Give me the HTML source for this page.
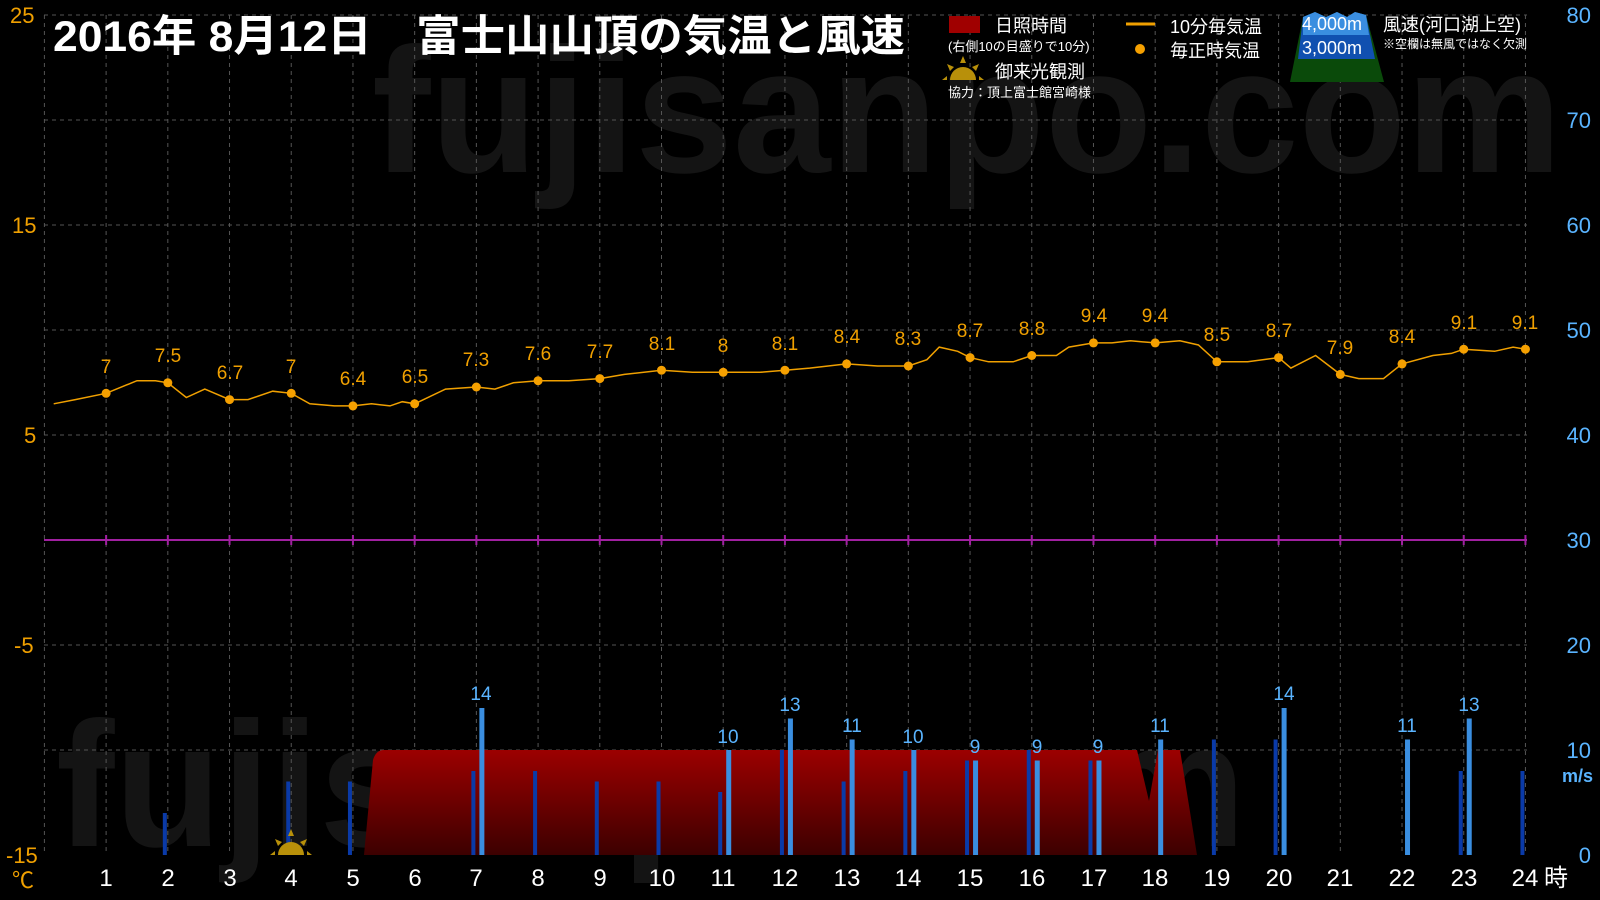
<!DOCTYPE html>
<html><head><meta charset="utf-8"><style>
html,body{margin:0;padding:0;background:#000;}
svg{display:block;font-family:"Liberation Sans","Noto Sans CJK JP",sans-serif;}
</style></head><body>
<svg id="s" width="1600" height="900" viewBox="0 0 1600 900" xmlns="http://www.w3.org/2000/svg">
<defs>
<linearGradient id="rg" x1="0" y1="0" x2="0" y2="1"><stop offset="0" stop-color="#9c0000"/><stop offset="1" stop-color="#3c0000"/></linearGradient>
</defs>
<rect width="1600" height="900" fill="#000"/>
<!-- watermarks -->
<text x="372" y="172" font-size="178" font-weight="bold" fill="#141414" textLength="1190" lengthAdjust="spacingAndGlyphs">fujisanpo.com</text>
<text x="56" y="846" font-size="178" font-weight="bold" fill="#141414" textLength="1190" lengthAdjust="spacingAndGlyphs">fujisanpo.com</text>
<!-- grid -->
<g stroke="#555" stroke-width="1" stroke-dasharray="4,4" fill="none" id="grid">
<line x1="44" y1="15" x2="1527" y2="15"/>
<line x1="44" y1="120" x2="1527" y2="120"/>
<line x1="44" y1="225" x2="1527" y2="225"/>
<line x1="44" y1="330" x2="1527" y2="330"/>
<line x1="44" y1="435" x2="1527" y2="435"/>
<line x1="44" y1="645" x2="1527" y2="645"/>
<line x1="44" y1="750" x2="1527" y2="750"/>
</g>
<!-- sunshine -->
<path d="M364,855 L373,760 Q376,750 384,750 L1137,750 L1149,801 L1158,750 L1180,750 L1197,855 Z" fill="url(#rg)"/>
<!-- purple zero line -->
<line x1="44" y1="540" x2="1527" y2="540" stroke="#a020a0" stroke-width="2"/>
<g id="bars"></g>
<g id="ticks" stroke="#a020a0" stroke-width="2"></g>
<polyline id="tl" fill="none" stroke="#f0a000" stroke-width="1.5" points=""/>
<g id="dots" fill="#f5a000"></g>
<!-- left axis -->
<g fill="#f0a000" font-size="22" text-anchor="start">
<text x="10" y="23">25</text>
<text x="12" y="233">15</text>
<text x="24" y="443">5</text>
<text x="14" y="653">-5</text>
<text x="6" y="863">-15</text>
<text x="12" y="888">℃</text>
</g>
<!-- right axis -->
<g fill="#5ab4ff" font-size="22" text-anchor="end">
<text x="1591" y="23">80</text>
<text x="1591" y="128">70</text>
<text x="1591" y="233">60</text>
<text x="1591" y="338">50</text>
<text x="1591" y="443">40</text>
<text x="1591" y="548">30</text>
<text x="1591" y="653">20</text>
<text x="1591" y="758">10</text>
<text x="1593" y="782" font-size="18" font-weight="bold">m/s</text>
<text x="1591" y="863">0</text>
</g>
<!-- hour labels -->
<g fill="#fff" font-size="24" text-anchor="middle">
<text x="106" y="886">1</text><text x="168" y="886">2</text><text x="230" y="886">3</text><text x="291" y="886">4</text>
<text x="353" y="886">5</text><text x="415" y="886">6</text><text x="476" y="886">7</text><text x="538" y="886">8</text>
<text x="600" y="886">9</text><text x="662" y="886">10</text><text x="723" y="886">11</text><text x="785" y="886">12</text>
<text x="847" y="886">13</text><text x="908" y="886">14</text><text x="970" y="886">15</text><text x="1032" y="886">16</text>
<text x="1094" y="886">17</text><text x="1155" y="886">18</text><text x="1217" y="886">19</text><text x="1279" y="886">20</text>
<text x="1340" y="886">21</text><text x="1402" y="886">22</text><text x="1464" y="886">23</text><text x="1525" y="886">24</text>
<text x="1556" y="886">時</text>
</g>
<!-- temp labels -->
<g fill="#f0a000" font-size="19" text-anchor="middle">
<text x="106" y="373">7</text><text x="168" y="362">7.5</text><text x="230" y="379">6.7</text><text x="291" y="373">7</text>
<text x="353" y="385">6.4</text><text x="415" y="383">6.5</text><text x="476" y="366">7.3</text><text x="538" y="360">7.6</text>
<text x="600" y="358">7.7</text><text x="662" y="350">8.1</text><text x="723" y="352">8</text><text x="785" y="350">8.1</text>
<text x="847" y="343">8.4</text><text x="908" y="345">8.3</text><text x="970" y="337">8.7</text><text x="1032" y="335">8.8</text>
<text x="1094" y="322">9.4</text><text x="1155" y="322">9.4</text><text x="1217" y="341">8.5</text><text x="1279" y="337">8.7</text>
<text x="1340" y="354">7.9</text><text x="1402" y="343">8.4</text><text x="1464" y="329">9.1</text><text x="1525" y="329">9.1</text>
</g>
<!-- wind labels -->
<g fill="#5ab4ff" font-size="19" text-anchor="middle">
<text x="481" y="700">14</text><text x="728" y="743">10</text><text x="790" y="711">13</text><text x="852" y="732">11</text>
<text x="913" y="743">10</text><text x="975" y="753">9</text><text x="1037" y="753">9</text><text x="1098" y="753">9</text>
<text x="1160" y="732">11</text><text x="1284" y="700">14</text><text x="1407" y="732">11</text><text x="1469" y="711">13</text>
</g>
<!-- sunrise icon -->
<g fill="#b8900a">
<path d="M278,855 A13,13 0 0 1 304,855 Z"/>
<polygon points="291,829 288,836 294,836"/>
<polygon points="275,839 282,842 278,846"/>
<polygon points="307,839 300,842 304,846"/>
<polygon points="270,855 275,851 275,855"/>
<polygon points="312,855 307,851 307,855"/>
</g>
<!-- title -->
<text x="53" y="51" fill="#fff" font-size="43" font-weight="bold" textLength="852" lengthAdjust="spacingAndGlyphs">2016年  8月12日　富士山山頂の気温と風速</text>
<!-- legend -->
<rect x="949" y="16" width="31" height="17" fill="#a00000"/>
<text x="995" y="32" fill="#fff" font-size="18">日照時間</text>
<text x="948" y="51" fill="#fff" font-size="13">(右側10の目盛りで10分)</text>
<g fill="#b8900a">
<path d="M950,80 A13,13 0 0 1 976,80 Z"/>
<polygon points="963,56 960,63 966,63"/>
<polygon points="947,64 954,67 950,71"/>
<polygon points="979,64 972,67 976,71"/>
<polygon points="942,80 947,76 947,80"/>
<polygon points="984,80 979,76 979,80"/>
</g>
<text x="995" y="78" fill="#fff" font-size="18">御来光観測</text>
<text x="948" y="97" fill="#fff" font-size="13">協力：頂上富士館宮崎様</text>
<line x1="1126" y1="24" x2="1155" y2="24" stroke="#f0a000" stroke-width="3"/>
<text x="1170" y="33" fill="#fff" font-size="18">10分毎気温</text>
<circle cx="1140" cy="49" r="5" fill="#f5a000"/>
<text x="1170" y="57" fill="#fff" font-size="18">毎正時気温</text>
<polygon points="1290,82 1384,82 1366,15 1355,12 1347,17 1337,12 1326,17 1315,12 1303,17" fill="#0a4a0a"/>
<polygon points="1298,59 1375,59 1366,15 1355,12 1347,17 1337,12 1326,17 1315,12 1303,17" fill="#1050b0"/>
<polygon points="1303,35 1369,35 1366,15 1355,12 1347,17 1337,12 1326,17 1315,12 1303,17" fill="#3a8ee0"/>
<text x="1302" y="30" fill="#fff" font-size="18">4,000m</text>
<text x="1302" y="54" fill="#fff" font-size="18">3,000m</text>
<text x="1383" y="31" fill="#fff" font-size="18">風速(河口湖上空)</text>
<text x="1383" y="48" fill="#fff" font-size="12">※空欄は無風ではなく欠測</text>
<script>
(function(){
var X=function(h){return 44.4+61.71*h;},Y=function(t){return 540.3-21*t;},W=function(w){return 855-10.5*w;};
var ns="http://www.w3.org/2000/svg";
var g=document.getElementById("grid");
for(var h=0;h<=24;h++){var l=document.createElementNS(ns,"line");l.setAttribute("x1",X(h));l.setAttribute("x2",X(h));l.setAttribute("y1",15);l.setAttribute("y2",855);g.appendChild(l);}
var tk=document.getElementById("ticks");
for(var h=1;h<=24;h++){var l=document.createElementNS(ns,"line");l.setAttribute("x1",X(h));l.setAttribute("x2",X(h));l.setAttribute("y1",535);l.setAttribute("y2",545);tk.appendChild(l);}
var pts=[[0.15,6.5],[0.5,6.7],[1,7],[1.5,7.6],[1.8,7.6],[2,7.5],[2.3,6.8],[2.6,7.2],[3,6.7],[3.3,6.7],[3.7,7.1],[4,7],[4.3,6.5],[4.7,6.4],[5,6.4],[5.3,6.5],[5.6,6.4],[5.8,6.6],[6,6.5],[6.5,7.2],[7,7.3],[7.3,7.2],[7.6,7.5],[8,7.6],[8.5,7.6],[9,7.7],[9.4,7.9],[10,8.1],[10.5,8.0],[11,8],[11.6,8.0],[12,8.1],[12.4,8.2],[13,8.4],[13.5,8.3],[14,8.3],[14.3,8.6],[14.5,9.2],[14.8,9.0],[15,8.7],[15.3,8.5],[15.7,8.5],[16,8.8],[16.4,8.8],[16.6,9.2],[17,9.4],[17.3,9.4],[17.6,9.5],[18,9.4],[18.4,9.5],[18.7,9.3],[19,8.5],[19.5,8.5],[20,8.7],[20.2,8.2],[20.6,8.8],[21,7.9],[21.3,7.7],[21.7,7.7],[22,8.4],[22.5,8.8],[22.8,8.9],[23,9.1],[23.5,9.0],[23.8,9.2],[24,9.1]];
document.getElementById("tl").setAttribute("points",pts.map(function(p){return X(p[0]).toFixed(1)+","+Y(p[1]).toFixed(1);}).join(" "));
var hv=[7,7.5,6.7,7,6.4,6.5,7.3,7.6,7.7,8.1,8,8.1,8.4,8.3,8.7,8.8,9.4,9.4,8.5,8.7,7.9,8.4,9.1,9.1];
var d=document.getElementById("dots");
hv.forEach(function(v,i){var c=document.createElementNS(ns,"circle");c.setAttribute("cx",X(i+1));c.setAttribute("cy",Y(v));c.setAttribute("r",4.5);d.appendChild(c);});
var dark={2:4,4:7,5:7,7:8,8:8,9:7,10:7,11:6,12:10,13:7,14:8,15:9,16:10,17:9,19:11,20:11,23:8,24:8};
var light={7:14,11:10,12:13,13:11,14:10,15:9,16:9,17:9,18:11,20:14,22:11,23:13};
var b=document.getElementById("bars");
function bar(x,w,v,col){var r=document.createElementNS(ns,"rect");r.setAttribute("x",x);r.setAttribute("y",W(v));r.setAttribute("width",w);r.setAttribute("height",855-W(v));r.setAttribute("fill",col);b.appendChild(r);}
for(var k in dark)bar(X(+k)-5,4,dark[k],"#0a3aa8");
for(var k in light)bar(X(+k)+3,5,light[k],"#3a8ee0");
})();
</script>
</svg>
</body></html>
